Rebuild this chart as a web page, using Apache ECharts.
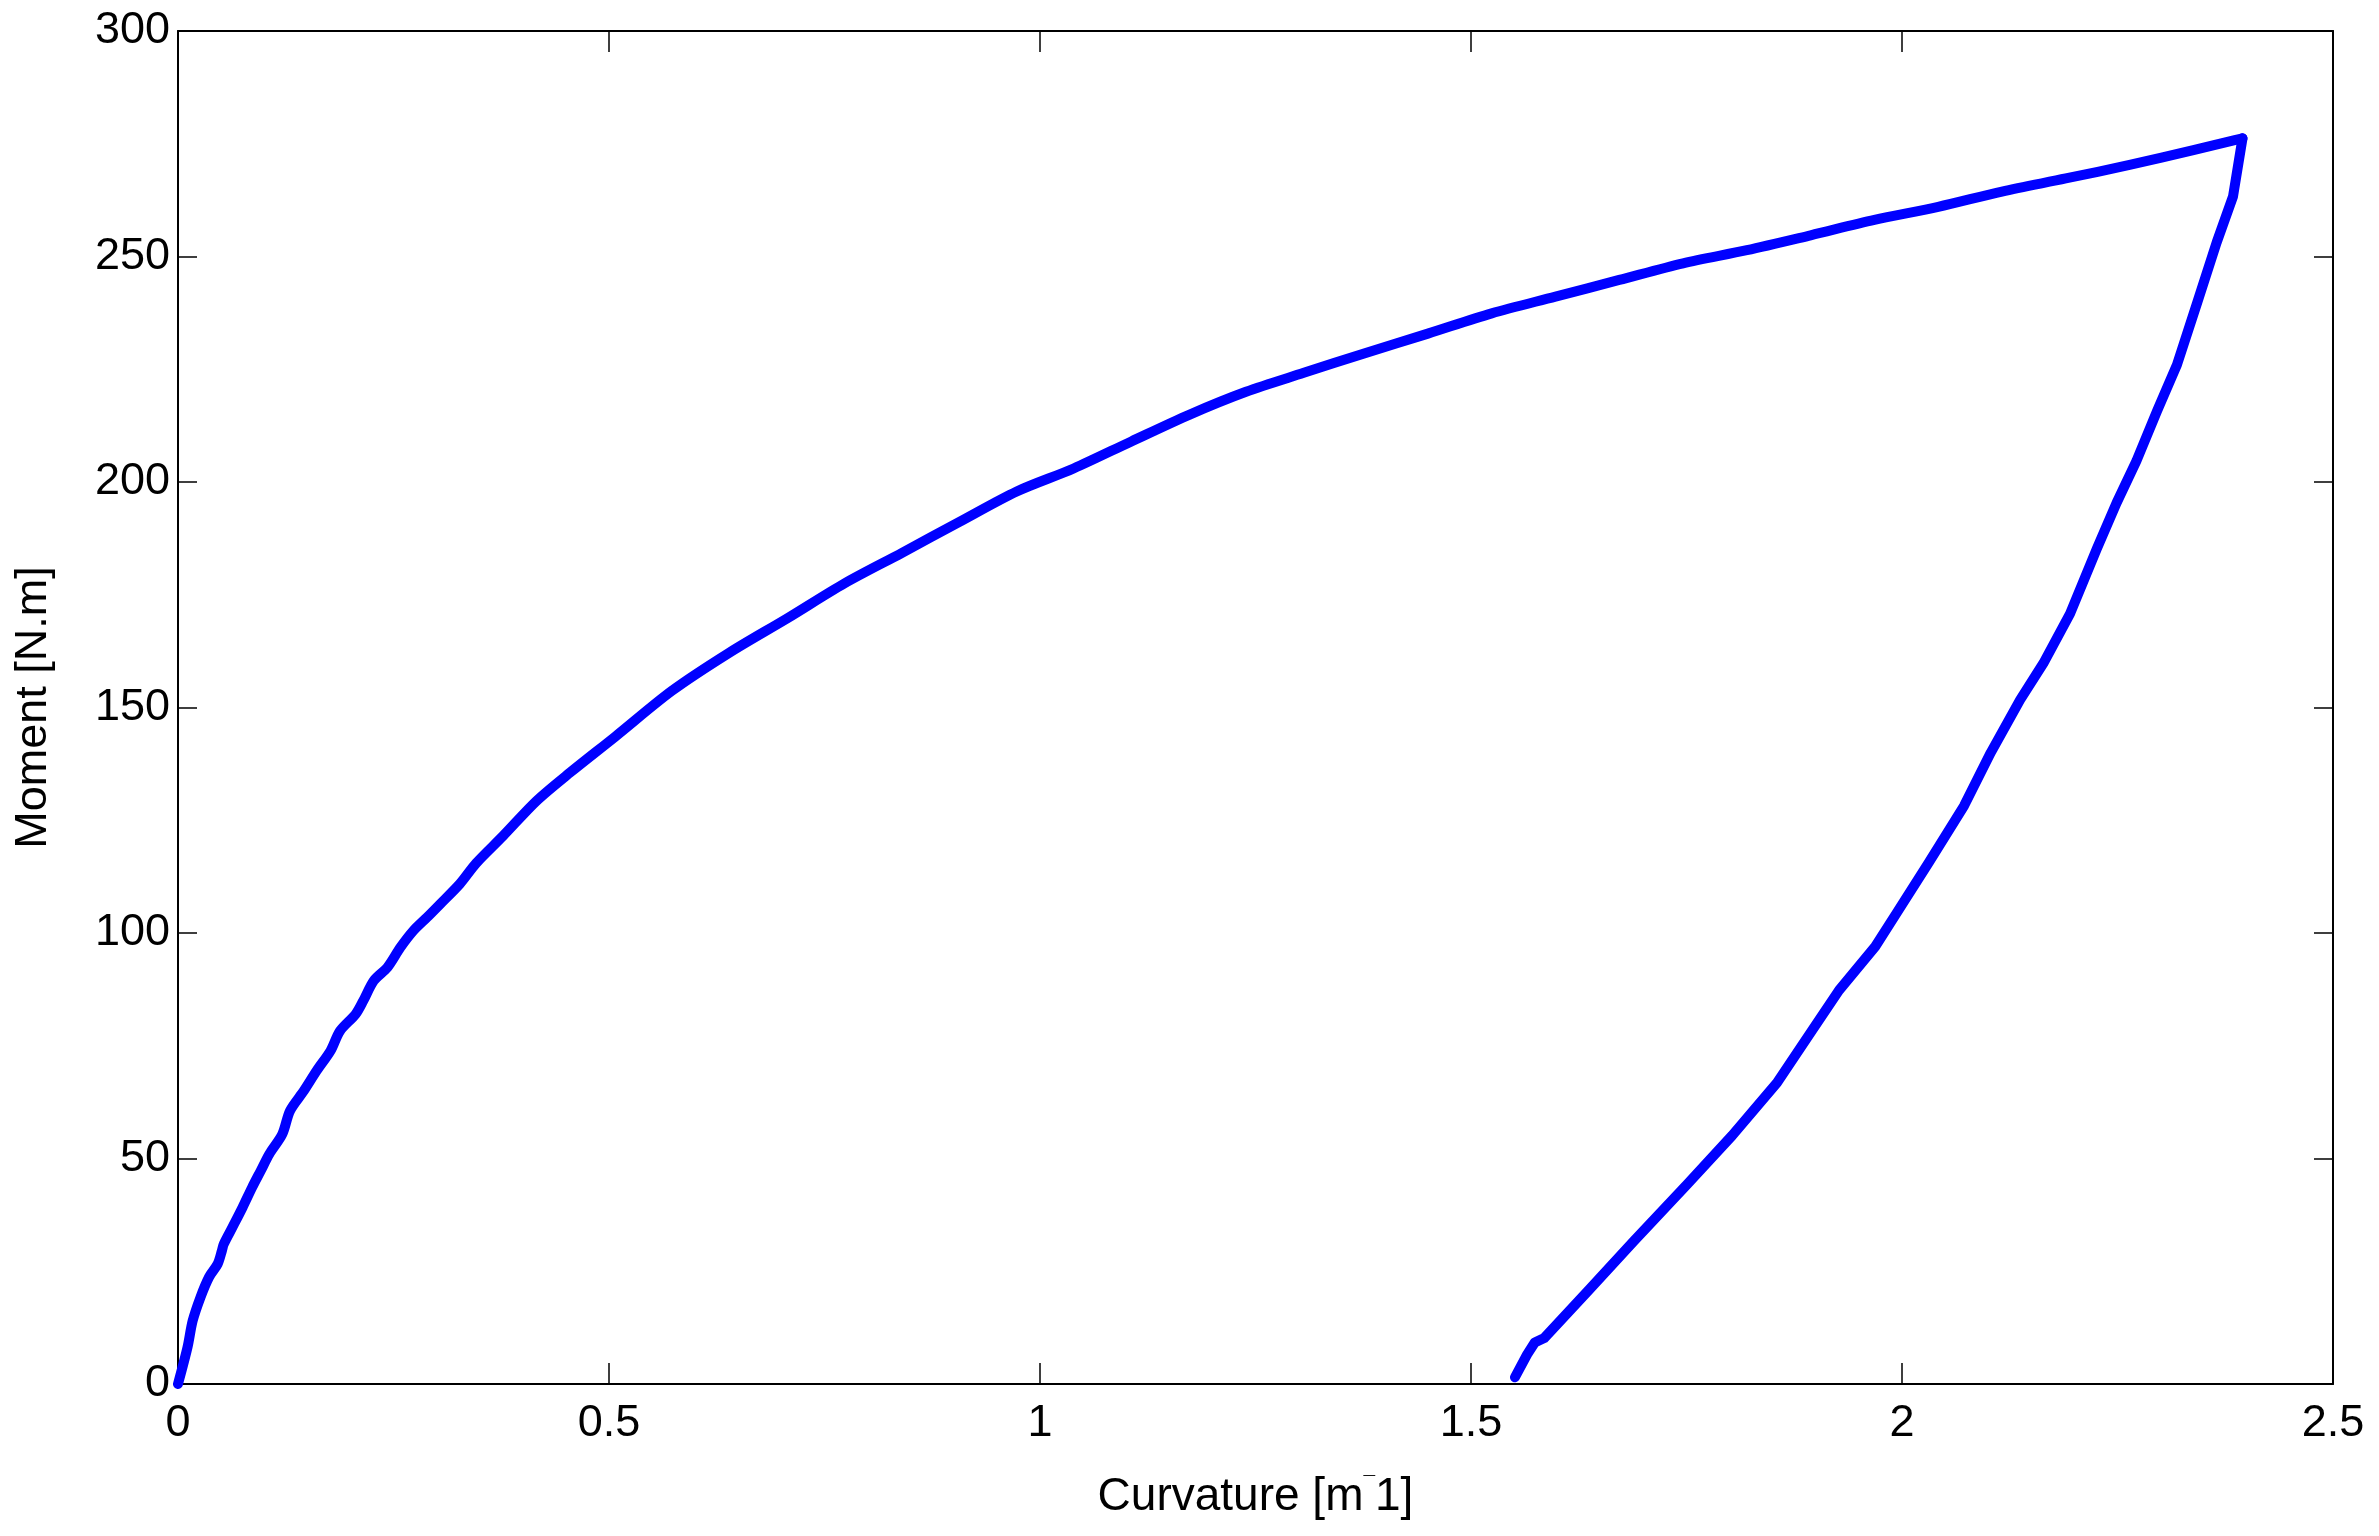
<!DOCTYPE html>
<html>
<head>
<meta charset="utf-8">
<script src="https://cdn.jsdelivr.net/npm/echarts@6/dist/echarts.min.js"></script>
<style>
html,body{margin:0;padding:0;background:#fff;}
#chart{width:2379px;height:1536px;}
</style>
</head>
<body>
<div id="chart"></div>
<script>
// Loading branch: [curvature (1/m), moment (N.m)]
var loadingPoints = [
  [0,0],[0.011,8.1],[0.017,14.0],[0.026,19.2],[0.036,23.7],[0.046,26.6],[0.051,29.6],
  [0.053,31.0],[0.063,34.7],[0.075,39.2],[0.086,43.6],[0.096,47.3],[0.106,51.0],
  [0.121,55.4],[0.130,60.6],[0.146,65.0],[0.161,69.5],[0.177,73.9],[0.188,78.3],
  [0.206,82.0],[0.215,85.0],[0.227,89.4],[0.243,92.4],[0.258,96.8],[0.273,100.5],
  [0.289,103.5],[0.304,106.4],[0.327,110.9],[0.346,115.5],[0.377,121.5],
  [0.416,129.3],[0.455,135.6],[0.507,143.5],[0.573,153.7],[0.640,162.2],[0.707,169.8],
  [0.773,177.5],[0.840,184.3],[0.906,191.1],[0.973,197.9],[1.039,203.0],[1.106,209.0],
  [1.173,214.9],[1.239,220.0],[1.306,224.2],[1.376,228.5],[1.450,232.9],[1.524,237.4],
  [1.598,241.1],[1.672,244.8],[1.746,248.5],[1.820,251.4],[1.894,254.7],[1.968,258.1],
  [2.042,261.0],[2.116,264.4],[2.190,267.3],[2.264,270.3],[2.338,273.6],[2.386,275.8],
  [2.395,276.2]
];
// Unloading branch
var unloadingPoints = [
  [2.395,276.2],[2.384,263.3],[2.365,253.1],[2.342,239.5],[2.319,226.0],[2.296,215.8],
  [2.272,204.7],[2.249,195.4],[2.226,185.2],[2.195,170.8],[2.164,159.8],[2.137,151.7],
  [2.103,140.0],[2.072,128.2],[2.031,115.6],[1.995,104.8],[1.969,97.0],[1.927,87.3],
  [1.896,78.5],[1.855,66.8],[1.803,55.1],[1.751,44.3],[1.689,31.7],[1.637,20.9],
  [1.585,10.2],[1.574,9.2],[1.565,6.5],[1.551,1.5]
];
var xRange = [0, 2.5], xStep = 0.5;
var yRange = [0, 300], yStep = 50;
var xTitleParts = ['Curvature [m', '\u00AF', '1]'];
var yTitle = 'Moment [N.m]';

var font = '"Liberation Sans", Arial, Helvetica, sans-serif';
var chart = echarts.init(document.getElementById('chart'), null, {renderer:'canvas'});

function xAxisCfg(pos, main){
  return {
    type:'value', position:pos, min:xRange[0], max:xRange[1], interval:xStep,
    axisLine:{show:true, onZero:false, lineStyle:{color:'#000', width:2}},
    axisTick:{show:true, inside:true, length:21, lineStyle:{color:'#000', width:1.5}},
    axisLabel:{show:main, margin:17, color:'#000', fontSize:45, fontFamily:font},
    splitLine:{show:false},
    name: main ? '{n|' + xTitleParts[0] + '}{s|' + xTitleParts[1] + '}{n|' + xTitleParts[2] + '}' : '',
    nameLocation:'middle', nameGap:90,
    nameTextStyle:{color:'#000', fontSize:46, fontFamily:font,
      rich:{
        n:{fontSize:46, fontFamily:font, color:'#000', verticalAlign:'bottom'},
        s:{fontSize:21, fontFamily:font, color:'#000', verticalAlign:'top'}
      }}
  };
}
function yAxisCfg(pos, main){
  return {
    type:'value', position:pos, min:yRange[0], max:yRange[1], interval:yStep,
    axisLine:{show:true, onZero:false, lineStyle:{color:'#000', width:2}},
    axisTick:{show:true, inside:true, length:19, lineStyle:{color:'#000', width:1.5}},
    axisLabel:{show:main, margin:8, color:'#000', fontSize:45, fontFamily:font},
    splitLine:{show:false},
    name: main ? yTitle : '', nameLocation:'middle', nameGap:122,
    nameTextStyle:{color:'#000', fontSize:45, fontFamily:font}
  };
}

chart.setOption({
  animation:false,
  backgroundColor:'#fff',
  grid:{left:178, right:46, top:31, bottom:152, containLabel:false},
  xAxis:[xAxisCfg('bottom', true), xAxisCfg('top', false)],
  yAxis:[yAxisCfg('left', true), yAxisCfg('right', false)],
  series:[
    {type:'line', data:loadingPoints, showSymbol:false, smooth:0.3, clip:false,
     lineStyle:{color:'#0000FF', width:10, cap:'round', join:'round'}},
    {type:'line', data:unloadingPoints, showSymbol:false, smooth:false, clip:false,
     lineStyle:{color:'#0000FF', width:10, cap:'round', join:'round'}}
  ]
});
</script>
</body>
</html>
